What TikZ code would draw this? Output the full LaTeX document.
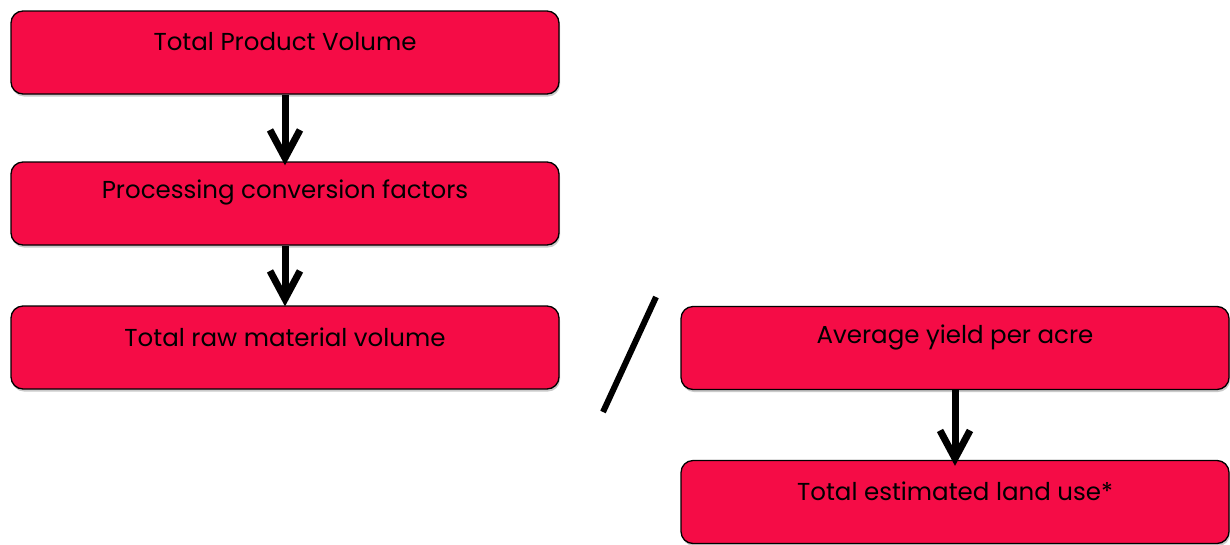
\documentclass[tikz,border=0pt]{standalone}
\usepackage{fontspec}
\setmainfont{Poppins}
\usetikzlibrary{arrows.meta,shadows}
\definecolor{boxred}{RGB}{245,12,70}
\tikzset{
  box/.style={draw=black, line width=1.3pt, fill=boxred, rounded corners=12pt,
    minimum width=548pt, minimum height=83pt, inner sep=0pt,
    drop shadow={shadow xshift=1pt, shadow yshift=-2.5pt, opacity=0.35, fill=black!60}},
  lbl/.style={font=\fontsize{24.5}{28}\selectfont, text=black},
  flow/.style={line width=7pt, -{Straight Barb[length=28pt, width=30pt, line width=7pt]}},
}
\begin{document}
\begin{tikzpicture}[x=1pt,y=-1pt]
\useasboundingbox (0,0) rectangle (1230,544);
\node[box] (b1) at (285,52.5) {};
\node[box] (b2) at (285,203.5) {};
\node[box] (b3) at (285,347.5) {};
\node[box] (b4) at (955,348) {};
\node[box] (b5) at (955,502) {};
\node[lbl] (t1) at (285,42) {Total Product Volume};
\node[lbl] (t2) at (285,192) {Processing conversion factors};
\node[lbl] (t3) at (285,337) {Total raw material volume};
\node[lbl] (t4) at (955,337) {Average yield per acre};
\node[lbl] (t5) at (955,491) {Total estimated land use*};
\coordinate (s1) at (656,297);
\coordinate (s2) at (603,412);
\draw[line width=6pt] (s1) -- (s2);
\draw[flow] (b1.south) -- ([yshift=-4pt]b2.north);
\draw[flow] (b2.south) -- ([yshift=-1pt]b3.north);
\draw[flow] (b4.south) -- ([yshift=-6pt]b5.north);
\end{tikzpicture}
\end{document}
